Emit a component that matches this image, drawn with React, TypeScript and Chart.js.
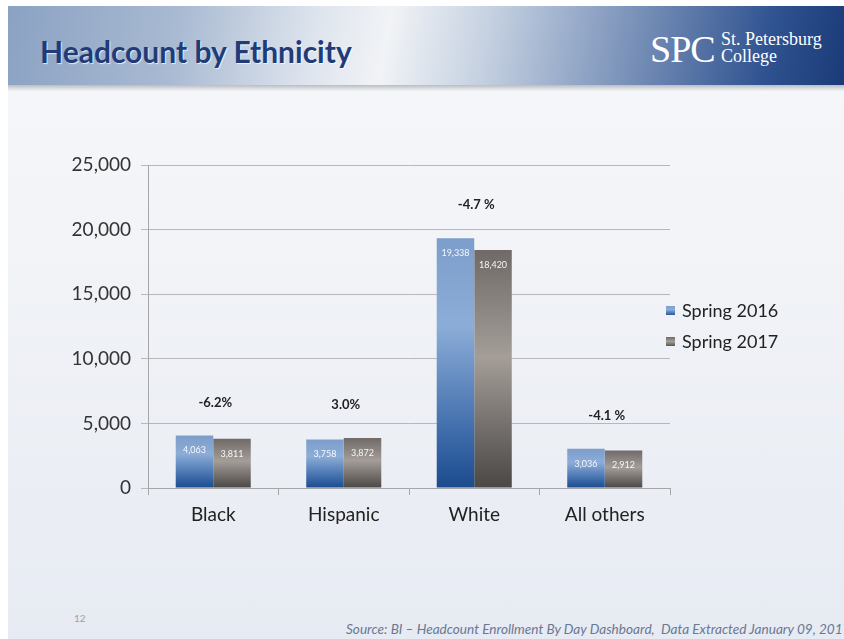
import React, { useEffect, useRef } from "react";
import { Chart, registerables } from "chart.js";

Chart.register(...registerables);

const categories = ["Black", "Hispanic", "White", "All others"];
const spring2016 = [4063, 3758, 19338, 3036];
const spring2017 = [3811, 3872, 18420, 2912];
const seriesLabels = ["Spring 2016", "Spring 2017"];
const changeLabels = ["-6.2%", "3.0%", "-4.7 %", "-4.1 %"];
const yMin = 0;
const yMax = 25000;
const yStep = 5000;

const FONT = "Lato, 'Open Sans', sans-serif";

function blueGradient(ctx: CanvasRenderingContext2D, top: number, bottom: number) {
  const g = ctx.createLinearGradient(0, top, 0, bottom);
  g.addColorStop(0, "#7d9dca");
  g.addColorStop(0.35, "#8cadd8");
  g.addColorStop(0.8, "#3b69a8");
  g.addColorStop(1, "#1b4b8e");
  return g;
}
function greyGradient(ctx: CanvasRenderingContext2D, top: number, bottom: number) {
  const g = ctx.createLinearGradient(0, top, 0, bottom);
  g.addColorStop(0, "#6f6a67");
  g.addColorStop(0.45, "#a49d98");
  g.addColorStop(1, "#4a4745");
  return g;
}

function barFill(kind: number) {
  return (c: any) => {
    const chart = c.chart;
    const area = chart.chartArea;
    if (!area || c.parsed == null) return kind === 0 ? "#5f86bd" : "#8a8480";
    const top = chart.scales.y.getPixelForValue(c.parsed.y);
    const bottom = area.bottom;
    return kind === 0
      ? blueGradient(chart.ctx, top, bottom)
      : greyGradient(chart.ctx, top, bottom);
  };
}

const labelPlugin = {
  id: "labels",
  afterDatasetsDraw(chart: any) {
    const ctx = chart.ctx as CanvasRenderingContext2D;
    ctx.save();
    ctx.textAlign = "center";
    ctx.textBaseline = "middle";
    ctx.font = `9px ${FONT}`;
    ctx.fillStyle = "rgba(255,255,255,0.92)";
    chart.data.datasets.forEach((ds: any, di: number) => {
      const meta = chart.getDatasetMeta(di);
      meta.data.forEach((bar: any, i: number) => {
        ctx.fillText(Number(ds.data[i]).toLocaleString("en-US"), bar.x, bar.y + 15);
      });
    });
    ctx.font = `bold 13px ${FONT}`;
    ctx.fillStyle = "#222";
    categories.forEach((_, i) => {
      const x = chart.scales.x.getPixelForValue(i);
      let top = Infinity;
      chart.data.datasets.forEach((_ds: any, di: number) => {
        const b = chart.getDatasetMeta(di).data[i];
        top = Math.min(top, b.y);
      });
      ctx.fillText(changeLabels[i], x + 2, top - 33);
    });
    ctx.restore();
  },
  afterDraw(chart: any) {
    const ctx = chart.ctx as CanvasRenderingContext2D;
    const area = chart.chartArea;
    ctx.save();
    const lx = area.right - 4;
    const ly = 311;
    seriesLabels.forEach((lab, i) => {
      const y = ly + i * 31;
      ctx.fillStyle = i === 0 ? blueGradient(ctx, y - 5, y + 5) : greyGradient(ctx, y - 5, y + 5);
      ctx.fillRect(lx, y - 5, 9, 9);
      ctx.fillStyle = "#222";
      ctx.font = `18px ${FONT}`;
      ctx.textAlign = "left";
      ctx.textBaseline = "middle";
      ctx.fillText(lab, lx + 16, y);
    });
    ctx.restore();
  },
};

function ChartCanvas() {
  const ref = useRef<HTMLCanvasElement | null>(null);
  useEffect(() => {
    if (!ref.current) return;
    const chart = new Chart(ref.current, {
      type: "bar",
      data: {
        labels: categories,
        datasets: [
          { label: seriesLabels[0], data: spring2016, backgroundColor: barFill(0) as any, categoryPercentage: 0.575, barPercentage: 1 },
          { label: seriesLabels[1], data: spring2017, backgroundColor: barFill(1) as any, categoryPercentage: 0.575, barPercentage: 1 },
        ],
      },
      options: {
        responsive: false,
        animation: false,
        devicePixelRatio: 1,
        layout: { padding: { left: 68, right: 174, top: 165, bottom: 111 } },
        plugins: { legend: { display: false }, tooltip: { enabled: false } },
        scales: {
          y: {
            min: yMin,
            max: yMax,
            ticks: {
              stepSize: yStep,
              padding: 10,
              color: "#333",
              font: { family: FONT, size: 19 },
              callback: (v: any) => Number(v).toLocaleString("en-US"),
            },
            grid: { color: "#b8b8b8", tickLength: 7, lineWidth: 1 },
            border: { color: "#a6a6a6" },
            afterFit: (s: any) => { s.width = 80; },
          },
          x: {
            ticks: { padding: 8, color: "#222", font: { family: FONT, size: 19 } },
            grid: { drawOnChartArea: false, tickLength: 7, color: "#a6a6a6", offset: true },
            border: { color: "#a6a6a6" },
            afterFit: (s: any) => { s.height = 40; },
          },
        },
      },
      plugins: [labelPlugin],
    });
    return () => chart.destroy();
  }, []);
  return (
    <canvas
      ref={ref}
      width={844}
      height={639}
      style={{ position: "absolute", left: 0, top: 0, width: 844, height: 639 }}
    />
  );
}

export default function App() {
  return (
    <div style={{ position: "absolute", left: 0, top: 0, width: 844, height: 639, overflow: "hidden", background: "#fff" }}>
      <div
        style={{
          position: "absolute",
          left: 8,
          top: 6,
          width: 860,
          height: 650,
          background: "linear-gradient(180deg, #f7f8fa 0%, #f1f3f7 40%, #e6eaf2 100%)",
        }}
      >
        <div
          style={{
            position: "absolute",
            left: 0,
            top: 0,
            width: "100%",
            height: 79,
            background:
              "linear-gradient(100deg, #8ba2c3 0%, #a9bad2 20%, #dfe5ee 36%, #f1f3f6 44%, #c3cfe0 56%, #7a92b9 72%, #2f5290 88%, #14346f 100%)",
          }}
        />
        <div
          style={{
            position: "absolute",
            left: 0,
            top: 79,
            width: "100%",
            height: 6,
            background: "linear-gradient(180deg, #b9bdc3 0%, #d6d8dc 50%, #f2f3f5 100%)",
          }}
        />
        <div
          style={{
            position: "absolute",
            left: 32,
            top: 27,
            fontFamily: FONT,
            fontWeight: 700,
            fontSize: 30,
            color: "#1f3c79",
            whiteSpace: "nowrap",
            textShadow: "1px 1px 1px rgba(255,255,255,0.8)",
          }}
        >
          Headcount by Ethnicity
        </div>
        <div
          style={{
            position: "absolute",
            left: 642,
            top: 21,
            fontFamily: "'Liberation Serif', 'DejaVu Serif', serif",
            fontSize: 38,
            color: "#fff",
            letterSpacing: -1,
            whiteSpace: "nowrap",
          }}
        >
          SPC
        </div>
        <div
          style={{
            position: "absolute",
            left: 713,
            top: 25,
            fontFamily: "'Liberation Serif', 'DejaVu Serif', serif",
            fontSize: 18,
            lineHeight: "17px",
            color: "#fff",
            whiteSpace: "nowrap",
          }}
        >
          St. Petersburg
          <br />
          College
        </div>
        <div
          style={{
            position: "absolute",
            left: 66,
            top: 606,
            fontFamily: FONT,
            fontSize: 10,
            color: "#a0a0a0",
          }}
        >
          12
        </div>
        <div
          style={{
            position: "absolute",
            left: 338,
            top: 615,
            fontFamily: FONT,
            fontStyle: "italic",
            fontSize: 13.6,
            color: "#6a7892",
            whiteSpace: "nowrap",
          }}
        >
          Source: BI – Headcount Enrollment By Day Dashboard,&nbsp; Data Extracted January 09, 2017
        </div>
      </div>
      <ChartCanvas />
    </div>
  );
}
